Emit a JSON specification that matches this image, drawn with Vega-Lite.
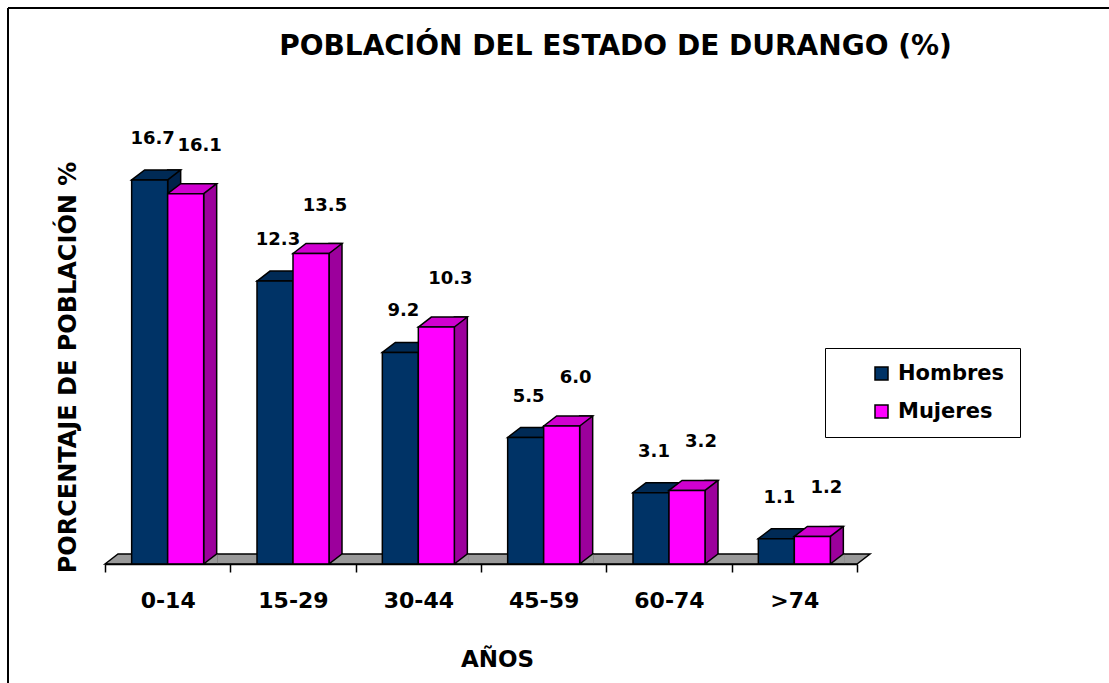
{
  "$schema": "https://vega.github.io/schema/vega-lite/v6.json",
  "width": 1101,
  "height": 675,
  "autosize": {"type": "none"},
  "padding": {"left": 8, "top": 8, "right": 0, "bottom": 0},
  "background": "white",
  "config": {
    "view": {"stroke": "black", "strokeWidth": 2, "strokeDash": [1101, 1776, 675, 0]},
    "font": "DejaVu Sans"
  },
  "title": {
    "text": "POBLACIÓN DEL ESTADO DE DURANGO (%)",
    "font": "DejaVu Sans",
    "fontSize": 28,
    "fontWeight": "bold",
    "color": "black",
    "anchor": "middle",
    "frame": "group",
    "baseline": "alphabetic",
    "offset": 0,
    "dx": 57,
    "dy": 75
  },
  "data": {
    "values": [
      {"edad": "0-14", "sexo": "Hombres", "pct": 16.7},
      {"edad": "0-14", "sexo": "Mujeres", "pct": 16.1},
      {"edad": "15-29", "sexo": "Hombres", "pct": 12.3},
      {"edad": "15-29", "sexo": "Mujeres", "pct": 13.5},
      {"edad": "30-44", "sexo": "Hombres", "pct": 9.2},
      {"edad": "30-44", "sexo": "Mujeres", "pct": 10.3},
      {"edad": "45-59", "sexo": "Hombres", "pct": 5.5},
      {"edad": "45-59", "sexo": "Mujeres", "pct": 6.0},
      {"edad": "60-74", "sexo": "Hombres", "pct": 3.1},
      {"edad": "60-74", "sexo": "Mujeres", "pct": 3.2},
      {"edad": ">74", "sexo": "Hombres", "pct": 1.1},
      {"edad": ">74", "sexo": "Mujeres", "pct": 1.2}
    ]
  },
  "encoding": {
    "x": {
      "field": "edad",
      "type": "nominal",
      "sort": null,
      "title": "AÑOS",
      "scale": {"range": [97, 849], "paddingInner": 0, "paddingOuter": 0},
      "axis": {
        "orient": "bottom",
        "offset": -119,
        "zindex": 1,
        "tickBand": "extent",
        "tickSize": 8,
        "tickColor": "black",
        "tickWidth": 1.5,
        "domainColor": "black",
        "domainWidth": 1.5,
        "grid": false,
        "labelAngle": 0,
        "labelFont": "DejaVu Sans",
        "labelFontSize": 22,
        "labelFontWeight": "bold",
        "labelColor": "black",
        "labelPadding": 18,
        "labelBaseline": "top",
        "titleFont": "DejaVu Sans",
        "titleFontSize": 23,
        "titleFontWeight": "bold",
        "titleColor": "black",
        "titleX": 489,
        "titleY": 95,
        "titleAlign": "center",
        "titleBaseline": "middle"
      }
    },
    "y": {
      "field": "pct",
      "type": "quantitative",
      "stack": null,
      "title": "PORCENTAJE DE POBLACIÓN %",
      "scale": {"domain": [0, 20], "range": [556, 96], "nice": false, "zero": true},
      "axis": {
        "domain": false,
        "ticks": false,
        "labels": false,
        "grid": false,
        "titleFont": "DejaVu Sans",
        "titleFontSize": 24,
        "titleFontWeight": "bold",
        "titleColor": "black",
        "titleX": 60,
        "titleY": 359,
        "titleAngle": 270,
        "titleAlign": "center",
        "titleBaseline": "middle"
      }
    }
  },
  "layer": [
    {
      "transform": [{"filter": "datum.edad === '0-14' && datum.sexo === 'Hombres'"}],
      "mark": {"type": "point", "shape": "M-62.67,0 L-49.67,-10 L702.33,-10 L689.33,0 Z", "size": 4, "filled": true, "fill": "#999999", "stroke": "black", "strokeWidth": 1.5, "opacity": 1},
      "encoding": {"y": {"datum": 0}}
    },
    {
      "transform": [{"filter": "datum.sexo === 'Hombres'"}],
      "mark": {"type": "bar", "width": 13, "xOffset": 6.5, "yOffset": -10, "y2Offset": 0, "fill": "#00224a", "stroke": "black", "strokeWidth": 1.5},
      "encoding": {"y2": {"datum": 0}}
    },
    {
      "transform": [{"filter": "datum.sexo === 'Hombres'"}],
      "mark": {"type": "point", "shape": "M-36,0 L-23,-10 L13,-10 L0,0 Z", "size": 4, "filled": true, "fill": "#002a55", "stroke": "black", "strokeWidth": 1.5, "opacity": 1}
    },
    {
      "transform": [{"filter": "datum.sexo === 'Mujeres'"}],
      "mark": {"type": "bar", "width": 13, "xOffset": 42.5, "yOffset": -10, "y2Offset": 0, "fill": "#9c009c", "stroke": "black", "strokeWidth": 1.5},
      "encoding": {"y2": {"datum": 0}}
    },
    {
      "transform": [{"filter": "datum.sexo === 'Mujeres'"}],
      "mark": {"type": "point", "shape": "M50,-10 L49,-10 L36,0 L50,0", "size": 4, "filled": true, "fill": "#999999", "stroke": "black", "strokeWidth": 1.5, "opacity": 1},
      "encoding": {"y": {"datum": 0}}
    },
    {
      "transform": [{"filter": "datum.sexo === 'Mujeres'"}],
      "mark": {"type": "point", "shape": "M0,0 L13,-10 L49,-10 L36,0 Z", "size": 4, "filled": true, "fill": "#d000d0", "stroke": "black", "strokeWidth": 1.5, "opacity": 1}
    },
    {
      "mark": {"type": "bar", "stroke": "black", "strokeWidth": 1.5, "opacity": 1},
      "encoding": {
        "y2": {"datum": 0},
        "xOffset": {"field": "sexo", "type": "nominal", "sort": ["Hombres", "Mujeres"], "scale": {"paddingInner": 0, "paddingOuter": 0.7407}},
        "color": {
          "field": "sexo",
          "type": "nominal",
          "scale": {"domain": ["Hombres", "Mujeres"], "range": ["#003366", "#ff00ff"]},
          "legend": {
            "title": null,
            "orient": "none",
            "legendX": 817,
            "legendY": 340,
            "direction": "vertical",
            "strokeColor": "black",
            "padding": 15,
            "symbolType": "square",
            "symbolSize": 169,
            "symbolStrokeColor": "black",
            "symbolStrokeWidth": 1.5,
            "symbolOffset": 31,
            "labelFont": "DejaVu Sans",
            "labelFontSize": 21,
            "labelFontWeight": "bold",
            "labelColor": "black",
            "labelOffset": 6,
            "rowPadding": 16
          }
        }
      }
    },
    {
      "transform": [{"filter": "datum.sexo === 'Hombres'"}],
      "mark": {"type": "text", "dx": -15, "dy": -41, "font": "DejaVu Sans", "fontSize": 18, "fontWeight": "bold", "color": "black", "align": "center", "baseline": "middle"},
      "encoding": {"text": {"field": "pct", "type": "quantitative", "format": ".1f"}}
    },
    {
      "transform": [{"filter": "datum.sexo === 'Mujeres'"}],
      "mark": {"type": "text", "dx": 32, "dy": -48, "font": "DejaVu Sans", "fontSize": 18, "fontWeight": "bold", "color": "black", "align": "center", "baseline": "middle"},
      "encoding": {"text": {"field": "pct", "type": "quantitative", "format": ".1f"}}
    }
  ]
}
